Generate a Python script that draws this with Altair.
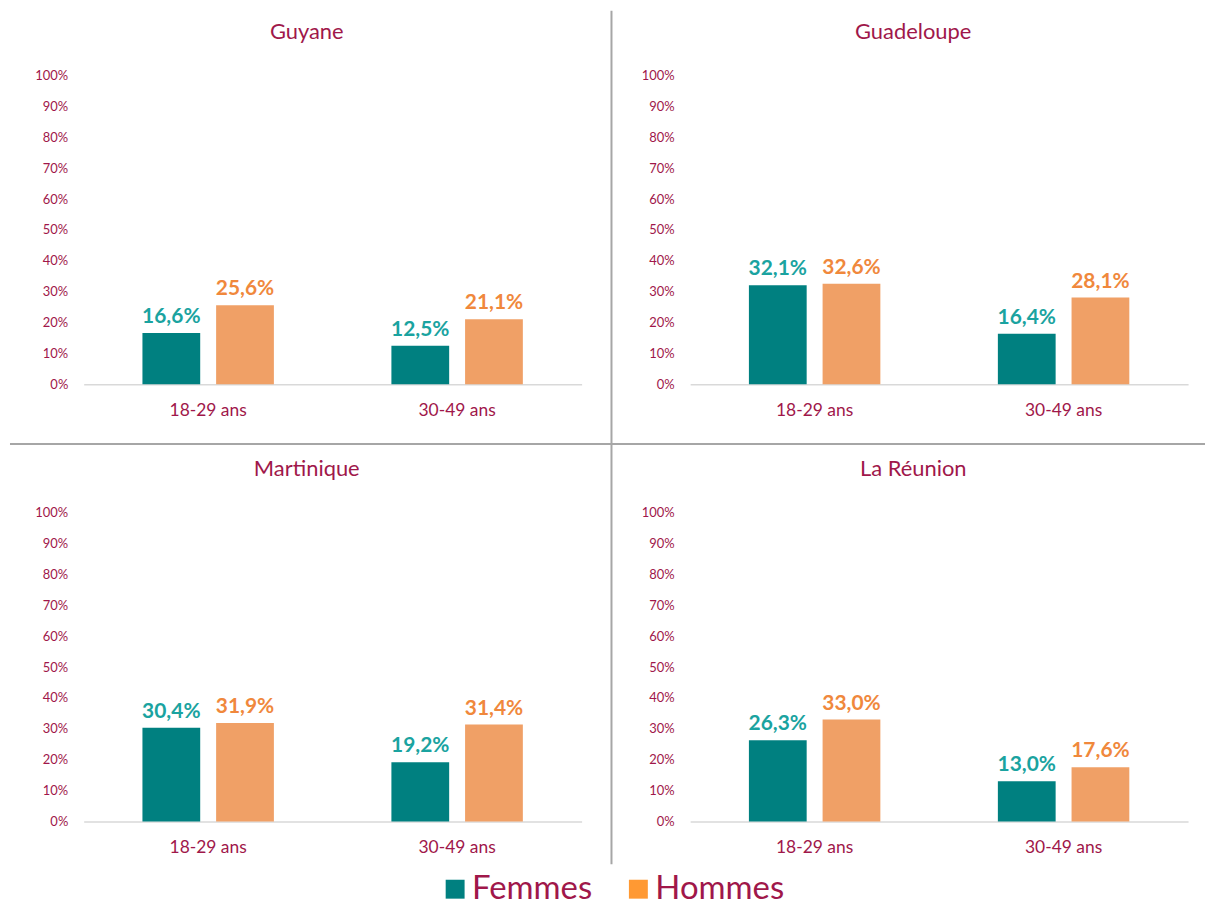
import altair as alt
import pandas as pd

FONT = "Lato"
CRIMSON = "#A0174A"
TEAL_BAR = "#008080"
ORANGE_BAR = "#F0A066"
TEAL_TXT = "#1AA3A0"
ORANGE_TXT = "#F0883C"
TEAL_LEG = "#008080"
ORANGE_LEG = "#FF9933"
DIVIDER = "#A6A6A6"

regions = ["Guyane", "Guadeloupe", "Martinique", "La Réunion"]
ages = ["18-29 ans", "30-49 ans"]
series = ["Femmes", "Hommes"]

guyane_femmes = [16.6, 12.5]
guyane_hommes = [25.6, 21.1]
guadeloupe_femmes = [32.1, 16.4]
guadeloupe_hommes = [32.6, 28.1]
martinique_femmes = [30.4, 19.2]
martinique_hommes = [31.9, 31.4]
reunion_femmes = [26.3, 13.0]
reunion_hommes = [33.0, 17.6]

y_ticks = list(range(0, 101, 10))


def panel(region, femmes, hommes, dividers=False, legend=False):
    df = pd.DataFrame({
        "age": ages * 2,
        "serie": [series[0]] * 2 + [series[1]] * 2,
        "val": femmes + hommes,
    })
    base = alt.Chart(df).encode(
        x=alt.X("age:N", sort=ages,
                scale=alt.Scale(paddingInner=0.472, paddingOuter=0.236),
                axis=alt.Axis(title=None, labelAngle=0, ticks=False,
                              domainColor="#D9D9D9", domainWidth=1.5,
                              labelFontSize=17.5, labelColor=CRIMSON,
                              labelPadding=17, labelFont=FONT)),
        xOffset=alt.XOffset("serie:N", sort=series,
                            scale=alt.Scale(paddingInner=0.216, paddingOuter=0)),
        y=alt.Y("val:Q", scale=alt.Scale(domain=[0, 100]),
                axis=alt.Axis(values=y_ticks, labelExpr="datum.value + '%'",
                              grid=False, domain=False, ticks=False, title=None,
                              labelFontSize=13, labelColor=CRIMSON,
                              labelPadding=16, labelFont=FONT)),
    )
    bars = base.mark_bar().encode(
        color=alt.condition(alt.datum.serie == "Femmes",
                            alt.value(TEAL_BAR), alt.value(ORANGE_BAR))
    )
    labels = base.mark_text(baseline="bottom", dy=-6, fontSize=21,
                            fontWeight="bold", font=FONT).encode(
        text="lbl:N",
        color=alt.condition(alt.datum.serie == "Femmes",
                            alt.value(TEAL_TXT), alt.value(ORANGE_TXT)),
    ).transform_calculate(
        lbl="replace(format(datum.val, '.1f'), '.', ',') + '%'"
    )
    title = alt.Chart(pd.DataFrame({"t": [region]})).mark_text(
        fontSize=22, font=FONT, color=CRIMSON, baseline="middle", align="center"
    ).encode(text="t:N", x=alt.value(224), y=alt.value(-44))
    layers = [alt.layer(bars, labels, title)]
    if dividers:
        one = alt.Chart(pd.DataFrame({"d": [0]}))
        vline = one.mark_rule(color=DIVIDER, strokeWidth=2).encode(
            x=alt.value(530), y=alt.value(-65), y2=alt.value(792))
        hline = one.mark_rule(color=DIVIDER, strokeWidth=2).encode(
            y=alt.value(370), x=alt.value(-74), x2=alt.value(1126))
        layers += [vline, hline]
    if legend:
        leg_df = pd.DataFrame({"serie": series, "idx": [0, 1]})
        leg_base = alt.Chart(leg_df).encode(
            x=alt.X("idx:Q", scale=alt.Scale(domain=[0, 1], range=[373, 557]),
                    axis=None),
            y=alt.value(378),
        )
        leg_sq = leg_base.mark_square(size=361, opacity=1).encode(
            color=alt.condition(alt.datum.serie == "Femmes",
                                alt.value(TEAL_LEG), alt.value(ORANGE_LEG))
        )
        leg_txt = leg_base.mark_text(align="left", baseline="middle", dx=17,
                                     fontSize=33, font=FONT,
                                     color=CRIMSON).encode(text="serie:N")
        layers += [alt.layer(leg_sq, leg_txt)]
    ch = alt.layer(*layers).properties(width=500, height=310)
    if legend:
        ch = ch.resolve_scale(x="independent")
    return ch


p1 = panel(regions[0], guyane_femmes, guyane_hommes, dividers=True)
p2 = panel(regions[1], guadeloupe_femmes, guadeloupe_hommes)
p3 = panel(regions[2], martinique_femmes, martinique_hommes, legend=True)
p4 = panel(regions[3], reunion_femmes, reunion_hommes)

chart = alt.concat(
    p1, p2, p3, p4, columns=2, bounds="flush",
    spacing=alt.RowColnumber(row=129, column=109),
).properties(
    padding={"left": 1, "top": 0, "right": 0, "bottom": 0}
).configure(font=FONT, view=alt.ViewConfig(stroke=None))

chart.save("out.html", embed_options={"renderer": "svg", "actions": False})
